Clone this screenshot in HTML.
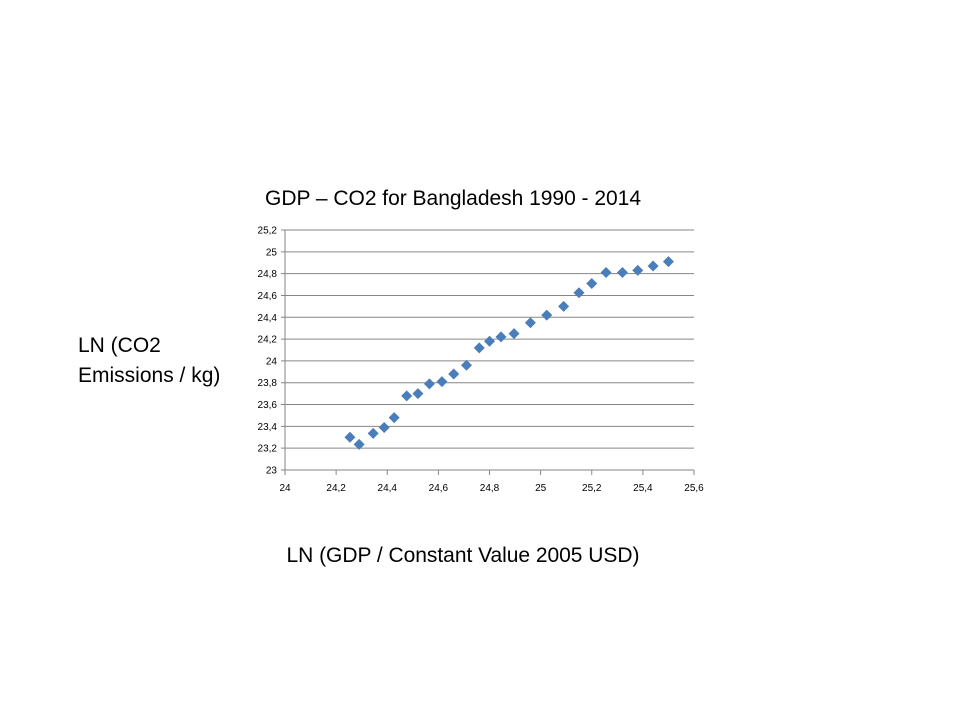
<!DOCTYPE html>
<html><head><meta charset="utf-8"><style>
body{margin:0;background:#fff;width:960px;height:720px;overflow:hidden;font-family:"Liberation Sans",sans-serif;}
svg{position:absolute;left:0;top:0}
</style></head><body>
<svg width="960" height="720">
<text x="453" y="205" text-anchor="middle" font-size="21" textLength="376" fill="#000">GDP – CO2 for Bangladesh 1990 - 2014</text>
<text x="78" y="352" font-size="21"><tspan x="78">LN (CO2</tspan><tspan x="78" dy="30">Emissions / kg)</tspan></text>
<text x="463" y="562" text-anchor="middle" font-size="21" textLength="353">LN (GDP / Constant Value 2005 USD)</text>
<g id="grid"></g><g id="ticks"></g><g id="pts"></g>
</svg>
<script>
const xs=[24.254,24.29,24.345,24.388,24.427,24.476,24.52,24.565,24.614,24.66,24.71,24.76,24.80,24.845,24.896,24.96,25.024,25.09,25.15,25.20,25.256,25.32,25.38,25.44,25.50];
const ys=[23.30,23.235,23.336,23.39,23.48,23.68,23.70,23.79,23.81,23.88,23.96,24.12,24.18,24.22,24.25,24.35,24.42,24.50,24.625,24.71,24.81,24.81,24.83,24.87,24.91];
const xTicks=["24","24,2","24,4","24,6","24,8","25","25,2","25,4","25,6"];
const yTicks=["23","23,2","23,4","23,6","23,8","24","24,2","24,4","24,6","24,8","25","25,2"];
const X0=285,X1=694,Y0=470,Y1=230,xmin=24,xmax=25.6,ymin=23,ymax=25.2;
const sx=v=>X0+(v-xmin)/(xmax-xmin)*(X1-X0);
const sy=v=>Y0-(v-ymin)/(ymax-ymin)*(Y0-Y1);
const NS="http://www.w3.org/2000/svg";
const g=document.getElementById('grid'),t=document.getElementById('ticks'),p=document.getElementById('pts');
function mk(tag,a,par){const e=document.createElementNS(NS,tag);for(const k in a)e.setAttribute(k,a[k]);par.appendChild(e);return e;}
yTicks.forEach((l,i)=>{const v=ymin+i*0.2,y=sy(v);
 const ln=mk('line',{x1:X0-4,x2:X1,y1:y,y2:y,stroke:'#868686','stroke-width':1},g);
 
 
 const tx=mk('text',{x:X0-8,y:y+3.5,'text-anchor':'end','font-size':10},t);tx.textContent=l;
 
 });
mk('line',{x1:X0,x2:X0,y1:Y1,y2:Y0,stroke:'#868686'},g);
xTicks.forEach((l,i)=>{const x=sx(xmin+i*0.2);
 mk('line',{x1:x,x2:x,y1:Y0,y2:Y0+5,stroke:'#868686'},g);
 const tx=mk('text',{x:x,y:Y0+21,'text-anchor':'middle','font-size':10},t);tx.textContent=l;
 
 });
xs.forEach((xv,i)=>{const x=sx(xv),y=sy(ys[i]);
 const d=mk('polygon',{points:`${x},${y-5.5} ${x+5.5},${y} ${x},${y+5.5} ${x-5.5},${y}`,fill:'#4a7ebb'},p);
 
 });
</script>
</body></html>
